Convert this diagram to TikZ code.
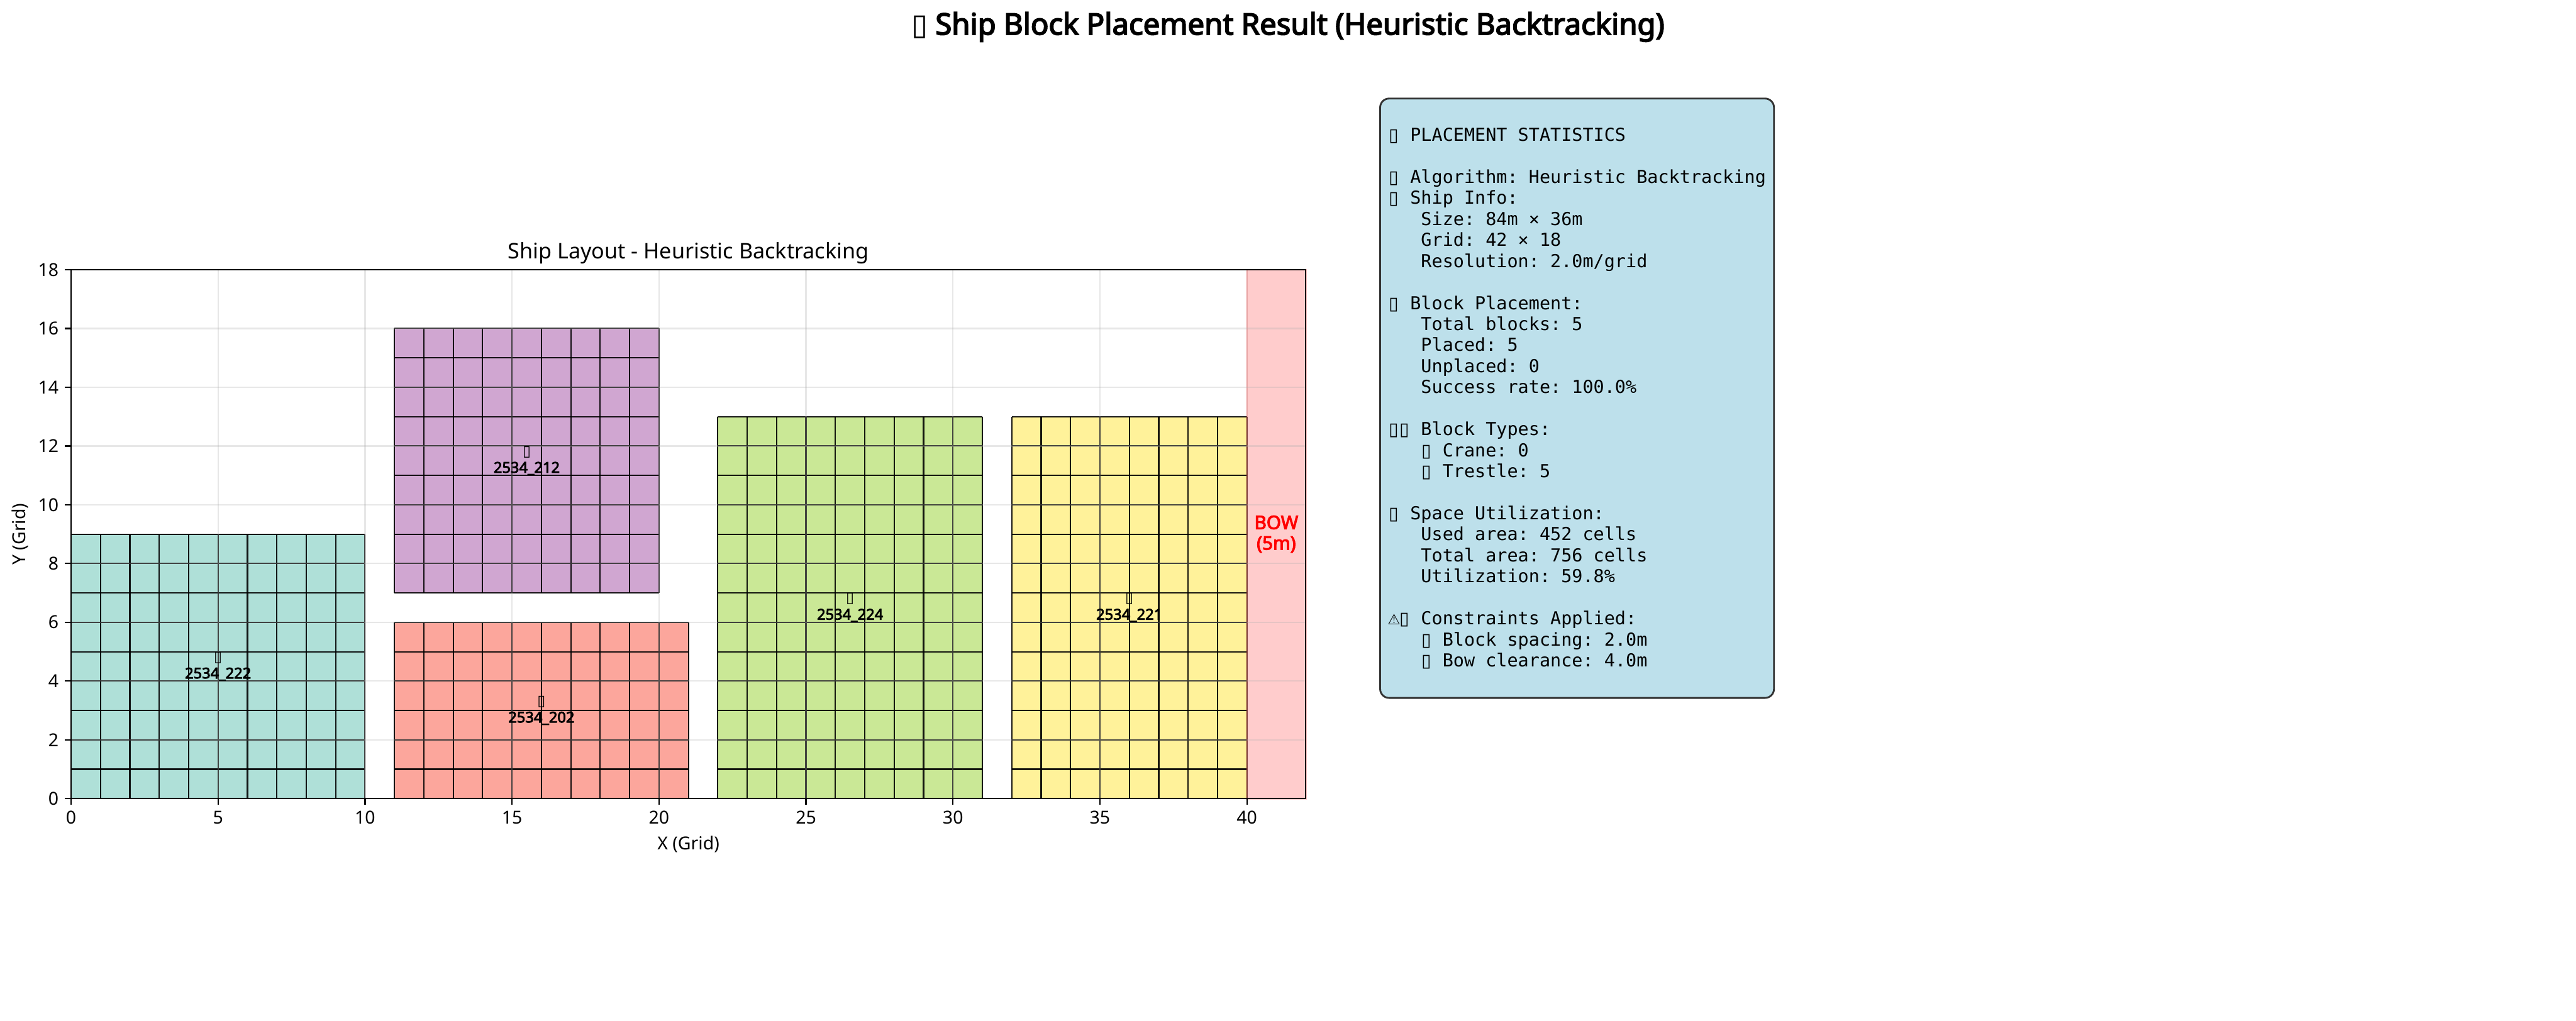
\documentclass[tikz,border=0pt]{standalone}
\usepackage{fontspec}
\setmainfont{Noto Sans}[BoldFont={Noto Sans}, BoldFeatures={FakeBold=3.6}]
\setmonofont{DejaVu Sans Mono}
\newfontfamily\dvsfont{DejaVu Sans}
\newcommand\tofu{{\dvsfont ▯}}
\newcommand\mtofu{\makebox[0.602em][c]{\dvsfont ▯}}
\newcommand\mwarn{\makebox[0.602em][c]{\dvsfont\fontsize{8}{8}\selectfont ⚠}}
\definecolor{tealc}{HTML}{AFE0D8}
\definecolor{purpc}{HTML}{D0A6D1}
\definecolor{salmc}{HTML}{FCA69C}
\definecolor{greenc}{HTML}{CAE896}
\definecolor{yellc}{HTML}{FFF29A}
\definecolor{statbg}{HTML}{BDE0EB}
\definecolor{gridc}{HTML}{B0B0B0}
\tikzset{
  celledge/.style={draw=black, line width=0.75pt, draw opacity=0.9},
  gridln/.style={draw=gridc, line width=0.8pt, draw opacity=0.3},
  blocklabel/.style={font=\bfseries\fontsize{8.3}{9.4}\selectfont, align=center, inner sep=0pt},
  ticklbl/.style={font=\fontsize{10}{12}\selectfont, inner sep=0pt, outer sep=0pt},
  statline/.style={font=\ttfamily\fontsize{10}{12}\selectfont, inner sep=0pt, anchor=base west},
  statbox/.style={draw=black!80, fill=statbg, line width=1pt, rounded corners=5pt, inner sep=0pt},
  bowzone/.style={fill=red, fill opacity=0.2, draw=red, draw opacity=0.2, line width=1pt},
}
\newcommand\shipblock[5]{%
  \fill[#5] (#1,#2) rectangle (#3,#4);
  \foreach \i in {#1,...,#3} \draw[celledge] (\i,#2) -- (\i,#4);
  \foreach \j in {#2,...,#4} \draw[celledge] (#1,\j) -- (#3,\j);
}
\newcommand\statline[2]{\node[statline] (st#1) at (27.25,{17.268-(#1-1)*0.4127}) {#2};}
\begin{document}
\begin{tikzpicture}
\useasboundingbox (0,0) rectangle (50.563,20.041);
% title
\node[font=\bfseries\fontsize{16.6}{19}\selectfont, anchor=base] (title) at (25.28,19.36)
  {\tofu\ Ship Block Placement Result (Heuristic Backtracking)};
% plot
\begin{scope}[shift={(1.395cm,4.36cm)}, x=0.577cm, y=0.577cm]
  \shipblock{0}{0}{10}{9}{tealc}
  \shipblock{11}{7}{20}{16}{purpc}
  \shipblock{11}{0}{21}{6}{salmc}
  \shipblock{22}{0}{31}{13}{greenc}
  \shipblock{32}{0}{40}{13}{yellc}
  \path[bowzone] (40,0) rectangle (42,18);
  \foreach \x in {0,5,...,40} \draw[gridln] (\x,0) -- (\x,18);
  \foreach \y in {0,2,...,18} \draw[gridln] (0,\y) -- (42,\y);
  \node[blocklabel] (b222) at (5,4.5) {\tofu\\2534\_222};
  \node[blocklabel] (b212) at (15.5,11.5) {\tofu\\2534\_212};
  \node[blocklabel] (b202) at (16,3) {\tofu\\2534\_202};
  \node[blocklabel] (b224) at (26.5,6.5) {\tofu\\2534\_224};
  \node[blocklabel] (b221) at (36,6.5) {\tofu\\2534\_221};
  \node[font=\bfseries\fontsize{10.4}{11.5}\selectfont, text=red, align=center] (bow) at (41,9) {BOW\\(5m)};
  % spines and ticks
  \draw[line width=0.8pt] (0,0) rectangle (42,18);
  \foreach \x in {0,5,...,40} {
    \draw[line width=0.8pt] (\x,0) -- ++(0,-3.5pt);
    \node[ticklbl, anchor=north] (xt\x) at ([yshift=-7pt]\x,0) {\x};
  }
  \foreach \y in {0,2,...,18} {
    \draw[line width=0.8pt] (0,\y) -- ++(-3.5pt,0);
    \node[ticklbl, anchor=east] (yt\y) at ([xshift=-7pt]0,\y) {\y};
  }
  \node[ticklbl] (xlab) at ([yshift=-0.903cm]21,0) {X (Grid)};
  \node[ticklbl, rotate=90] (ylab) at ([xshift=-1.0cm]0,9) {Y (Grid)};
  \node[font=\fontsize{12}{14}\selectfont, inner sep=0pt, anchor=base] (axtitle) at ([yshift=6pt]21,18) {Ship Layout - Heuristic Backtracking};
\end{scope}
% statistics box
\node[statbox, minimum width=7.73cm, minimum height=11.769cm] (stats) at (30.955,12.2215) {};
\statline{1}{\mtofu\ PLACEMENT STATISTICS}
\statline{3}{\mtofu\ Algorithm: Heuristic Backtracking}
\statline{4}{\mtofu\ Ship Info:}
\statline{5}{\phantom{000}Size: 84m × 36m}
\statline{6}{\phantom{000}Grid: 42 × 18}
\statline{7}{\phantom{000}Resolution: 2.0m/grid}
\statline{9}{\mtofu\ Block Placement:}
\statline{10}{\phantom{000}Total blocks: 5}
\statline{11}{\phantom{000}Placed: 5}
\statline{12}{\phantom{000}Unplaced: 0}
\statline{13}{\phantom{000}Success rate: 100.0\%}
\statline{15}{\mtofu\mtofu\ Block Types:}
\statline{16}{\phantom{000}\mtofu\ Crane: 0}
\statline{17}{\phantom{000}\mtofu\ Trestle: 5}
\statline{19}{\mtofu\ Space Utilization:}
\statline{20}{\phantom{000}Used area: 452 cells}
\statline{21}{\phantom{000}Total area: 756 cells}
\statline{22}{\phantom{000}Utilization: 59.8\%}
\statline{24}{\mwarn\mtofu\ Constraints Applied:}
\statline{25}{\phantom{000}\mtofu\ Block spacing: 2.0m}
\statline{26}{\phantom{000}\mtofu\ Bow clearance: 4.0m}
\end{tikzpicture}
\end{document}
